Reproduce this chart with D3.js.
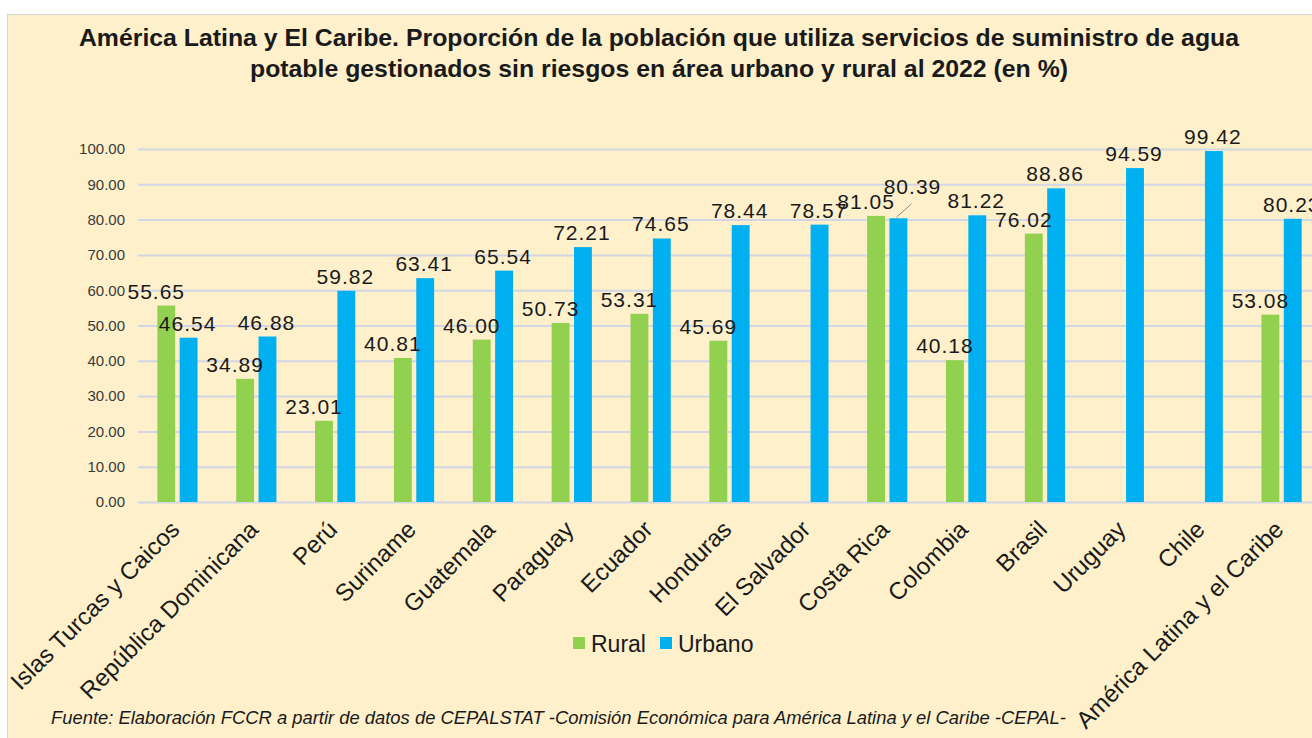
<!DOCTYPE html>
<html>
<head>
<meta charset="utf-8">
<script src="https://cdn.jsdelivr.net/npm/d3@7"></script>
<style>
  body { margin: 0; background: #ffffff; }
  svg { display: block; font-family: "Liberation Sans", Arial, sans-serif; }
</style>
</head>
<body>
<div id="chart"></div>
<script>
const categories = ["Islas Turcas y Caicos", "República Dominicana", "Perú", "Suriname", "Guatemala",
    "Paraguay", "Ecuador", "Honduras", "El Salvador", "Costa Rica", "Colombia", "Brasil",
    "Uruguay", "Chile", "América Latina y el Caribe"];
const rural = [55.65, 34.89, 23.01, 40.81, 46.00, 50.73, 53.31, 45.69, null, 81.05, 40.18, 76.02, null, null, 53.08];
const urbano = [46.54, 46.88, 59.82, 63.41, 65.54, 72.21, 74.65, 78.44, 78.57, 80.39, 81.22, 88.86, 94.59, 99.42, 80.23];
const series = ["Rural", "Urbano"];
const yTicks = [0, 10, 20, 30, 40, 50, 60, 70, 80, 90, 100];

function main() {
    const canvasWidth = 1312;
    const canvasHeight = 738;
    const colors = { Rural: "#92d050", Urbano: "#00b0f0" };

    const svg = d3.select("#chart").append("svg")
        .attr("width", canvasWidth)
        .attr("height", canvasHeight);

    // framed background
    svg.append("rect")
        .attr("x", 7.5).attr("y", 14.5)
        .attr("width", canvasWidth).attr("height", canvasHeight)
        .attr("fill", "#fdf0ca")
        .attr("stroke", "#d6d6d6");

    // title (slightly stretched to match the original width)
    const title = svg.append("text")
        .attr("transform", "translate(659,0) scale(1.08,1)")
        .attr("text-anchor", "middle")
        .attr("font-weight", "bold")
        .attr("font-size", "23px")
        .attr("fill", "#1a1a1a");
    title.append("tspan").attr("x", 0).attr("y", 46)
        .text("América Latina y El Caribe. Proporción de la población que utiliza servicios de suministro de agua");
    title.append("tspan").attr("x", 0).attr("y", 77)
        .text("potable gestionados sin riesgos en área urbano y rural al 2022 (en %)");

    const x0 = d3.scaleBand()
        .domain(categories)
        .range([138, 1321])
        .paddingInner(0.49)
        .paddingOuter(0.245);

    const x1 = d3.scaleBand()
        .domain(series)
        .range([0, x0.bandwidth()])
        .paddingInner(0.2);

    const yScale = d3.scaleLinear()
        .domain([0, 100])
        .range([502, 149]);

    // gridlines + y labels
    const yAxis = svg.append("g")
        .attr("transform", "translate(138,0)")
        .call(d3.axisLeft(yScale)
            .tickValues(yTicks)
            .tickSize(-(canvasWidth - 138))
            .tickPadding(13)
            .tickFormat(d3.format(".2f")));
    yAxis.select(".domain").remove();
    yAxis.selectAll(".tick line")
        .attr("stroke", "#d3d6e4")
        .attr("stroke-width", 2);
    yAxis.selectAll(".tick text")
        .attr("font-size", "15px")
        .attr("font-family", "Liberation Sans, Arial, sans-serif")
        .attr("fill", "#3a3a3a");

    const data = categories.map((c, i) => ({ cat: c, Rural: rural[i], Urbano: urbano[i] }));

    const groups = svg.append("g").selectAll("g")
        .data(data)
        .enter().append("g")
        .attr("transform", (d) => "translate(" + x0(d.cat) + ",0)");

    groups.selectAll("rect")
        .data((d) => series.map((s) => ({ key: s, value: d[s] })).filter((v) => v.value != null))
        .enter().append("rect")
        .attr("x", (d) => x1(d.key))
        .attr("width", x1.bandwidth())
        .attr("y", (d) => yScale(d.value))
        .attr("height", (d) => yScale(0) - yScale(d.value))
        .attr("fill", (d) => colors[d.key]);

    // value labels
    const labelGap = 7;
    groups.each(function (d) {
        const g = d3.select(this);
        const bw = x1.bandwidth();
        let ruralY = null;
        if (d.Rural != null) {
            ruralY = yScale(d.Rural) - labelGap;
            g.append("text")
                .attr("x", x1("Rural") + bw / 2 - 10)
                .attr("y", ruralY)
                .attr("text-anchor", "middle")
                .attr("font-size", "21px")
                .attr("letter-spacing", "1px")
                .attr("fill", "#1a1a1a")
                .text(d3.format(".2f")(d.Rural));
        }
        let uy = yScale(d.Urbano) - labelGap;
        let ux = x1("Urbano") + bw / 2 - 1;
        // lift label when it collides with the rural one, with a leader line
        if (ruralY != null && Math.abs(uy - ruralY) < 18) {
            uy = Math.min(uy, ruralY) - 15;
            ux = x1("Urbano") + 23;
            g.append("line")
                .attr("x1", x1("Urbano") + 22).attr("y1", uy + 10)
                .attr("x2", x1("Urbano") + 7).attr("y2", yScale(d.Urbano) - 1)
                .attr("stroke", "#8c8c8c")
                .attr("stroke-width", 1);
        }
        g.append("text")
            .attr("x", ux)
            .attr("y", uy)
            .attr("text-anchor", "middle")
            .attr("font-size", "21px")
            .attr("letter-spacing", "1px")
            .attr("fill", "#1a1a1a")
            .text(d3.format(".2f")(d.Urbano));
    });

    // category labels
    svg.append("g").selectAll("text")
        .data(categories)
        .enter().append("text")
        .attr("transform", (d) => "translate(" + (x0(d) + x0.bandwidth() / 2 - 2.5) + ",525) rotate(-45)")
        .attr("text-anchor", "end")
        .attr("dy", "0.35em")
        .attr("font-size", "24px")
        .attr("fill", "#1a1a1a")
        .text((d) => d);

    // legend
    const legend = svg.append("g").attr("transform", "translate(573,637)");
    const legendX = { Rural: 0, Urbano: 87 };
    series.forEach((s) => {
        legend.append("rect")
            .attr("x", legendX[s]).attr("y", 0)
            .attr("width", 12).attr("height", 12)
            .attr("fill", colors[s]);
        legend.append("text")
            .attr("x", legendX[s] + 18).attr("y", 15)
            .attr("font-size", "23px")
            .attr("fill", "#1a1a1a")
            .text(s);
    });

    // source
    svg.append("text")
        .attr("x", 51).attr("y", 724)
        .attr("font-size", "18.4px")
        .attr("font-style", "italic")
        .attr("fill", "#1a1a1a")
        .text("Fuente: Elaboración FCCR a partir de datos de CEPALSTAT -Comisión Económica para América Latina y el Caribe -CEPAL-");
}
main();
</script>
</body>
</html>
